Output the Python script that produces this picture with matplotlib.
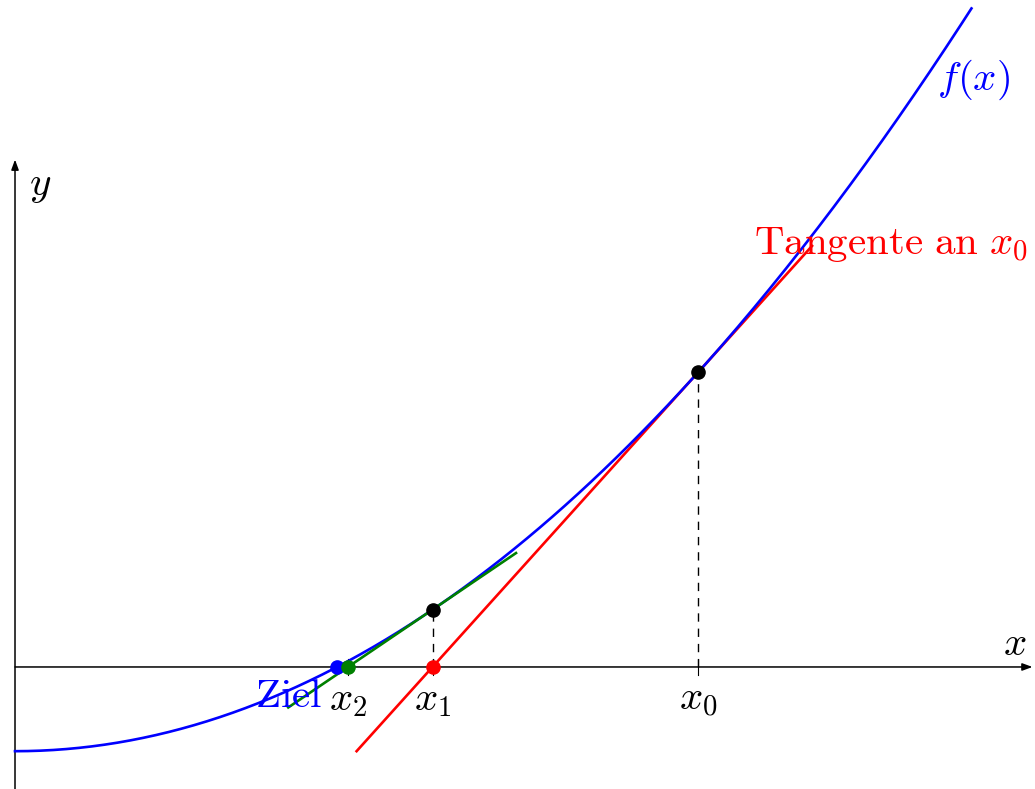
import matplotlib.pyplot as plt
import numpy as np

plt.rcParams['mathtext.fontset'] = 'cm'

# f(x) = a*x^2 + c
coef_a = 1.0
coef_c = -2.0
root = 1.41421
# Newton iterates x0, x1, x2
iterates = [3.0, 1.83333, 1.46212]
iter_labels = [r'$x_0$', r'$x_1$', r'$x_2$']
# drawn x-span of the two tangents
tan0_span = [1.5, 3.5]
tan1_span = [1.2, 2.2]
curve_span = [0.0, 4.2]


def f(x):
    return coef_a * np.asarray(x) ** 2 + coef_c


def df(x):
    return 2 * coef_a * np.asarray(x)


fig = plt.figure(figsize=(10.35, 7.89), dpi=100)
ax = fig.add_axes([0, 0, 1, 1])
ax.set_xlim(-0.0659, 4.479)
ax.set_ylim(-2.898, 15.84)
ax.axis('off')

fs = 29.5

# axes with arrows
ax.annotate('', xy=(4.468, 0), xytext=(0, 0),
            arrowprops=dict(arrowstyle='-|>,head_length=0.6,head_width=0.22',
                            color='black', lw=1.1, shrinkA=0, shrinkB=0))
ax.annotate('', xy=(0, 12.05), xytext=(0, -3.2),
            arrowprops=dict(arrowstyle='-|>,head_length=0.6,head_width=0.22',
                            color='black', lw=1.1, shrinkA=0, shrinkB=0))
ax.text(0.06, 11.45, r'$y$', fontsize=fs, ha='left', va='center')
ax.text(4.39, 0.55, r'$x$', fontsize=fs, ha='center', va='center')

# tangents
x0, x1, x2 = iterates
t0 = np.array(tan0_span)
ax.plot(t0, f(x0) + df(x0) * (t0 - x0), color='red', lw=1.9, zorder=2)

xs = np.linspace(curve_span[0], curve_span[1], 300)
ax.plot(xs, f(xs), color='blue', lw=1.9, zorder=3)

t1 = np.array(tan1_span)
ax.plot(t1, f(x1) + df(x1) * (t1 - x1), color='green', lw=1.9, zorder=4)

# dashed drops and ticks
for xi in [x0, x1]:
    ax.plot([xi, xi], [0, f(xi)], color='black', lw=1.0,
            linestyle=(0, (6, 5)), zorder=1)
for xi, lab in zip(iterates, iter_labels):
    ax.plot([xi, xi], [-0.18, 0.18], color='black', lw=0.8, zorder=1)
    ax.text(xi, -0.75, lab, fontsize=fs, ha='center', va='center')

# points
ms = 9.5
ax.plot([x0, x1], [f(x0), f(x1)], 'o', color='black', ms=ms, zorder=6)
ax.plot([x1], [0], 'o', color='red', ms=ms, zorder=6)
ax.plot([root], [0], 'o', color='blue', ms=ms, zorder=6)
ax.plot([x2], [0], 'o', color='green', ms=ms, zorder=6)

ax.text(1.35, -0.68, r'$\mathrm{Ziel}$', fontsize=fs, color='blue',
        ha='right', va='center', zorder=5)
ax.text(4.45, 10.05, r'$\mathrm{Tangente\ an}\ x_0$', fontsize=fs, color='red',
        ha='right', va='center', zorder=5)
ax.text(4.05, 13.95, r'$f(x)$', fontsize=fs, color='blue',
        ha='left', va='center', zorder=5)

fig.savefig('out.png', dpi=100)
